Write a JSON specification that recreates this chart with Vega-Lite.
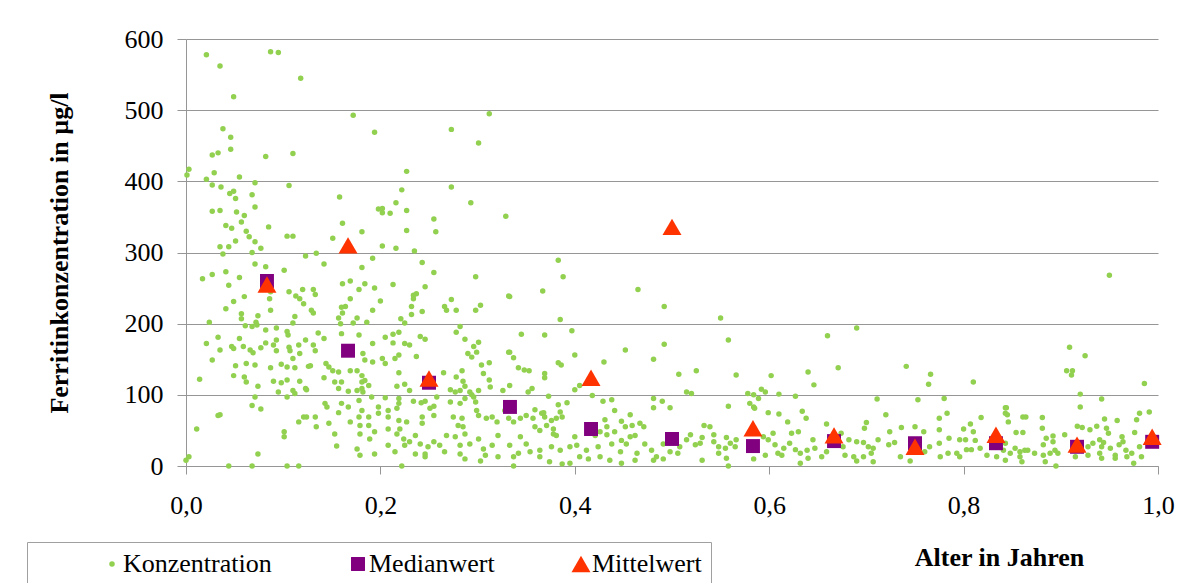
{
"$schema": "https://vega.github.io/schema/vega-lite/v6.json",
"width": 972, "height": 427,
"autosize": {"type": "none"},
"padding": {"left": 186, "top": 39, "right": 46, "bottom": 117},
"background": "white",
"config": {"view": {"stroke": null}, "font": "Liberation Serif"},
"data": {"values": [
{"alter":0.021,"wert":578,"reihe":"Konzentration"},{"alter":0.035,"wert":562,"reihe":"Konzentration"},{"alter":0.087,"wert":582,"reihe":"Konzentration"},{"alter":0.095,"wert":581,"reihe":"Konzentration"},{"alter":0.118,"wert":545,"reihe":"Konzentration"},{"alter":0.049,"wert":519,"reihe":"Konzentration"},{"alter":0.038,"wert":474,"reihe":"Konzentration"},{"alter":0.046,"wert":462,"reihe":"Konzentration"},{"alter":0.046,"wert":445,"reihe":"Konzentration"},{"alter":0.027,"wert":437,"reihe":"Konzentration"},{"alter":0.033,"wert":440,"reihe":"Konzentration"},{"alter":0.082,"wert":435,"reihe":"Konzentration"},{"alter":0.110,"wert":439,"reihe":"Konzentration"},{"alter":0.001,"wert":409,"reihe":"Konzentration"},{"alter":0.003,"wert":417,"reihe":"Konzentration"},{"alter":0.021,"wert":403,"reihe":"Konzentration"},{"alter":0.029,"wert":412,"reihe":"Konzentration"},{"alter":0.027,"wert":395,"reihe":"Konzentration"},{"alter":0.036,"wert":392,"reihe":"Konzentration"},{"alter":0.055,"wert":406,"reihe":"Konzentration"},{"alter":0.071,"wert":398,"reihe":"Konzentration"},{"alter":0.106,"wert":394,"reihe":"Konzentration"},{"alter":0.045,"wert":383,"reihe":"Konzentration"},{"alter":0.049,"wert":386,"reihe":"Konzentration"},{"alter":0.051,"wert":376,"reihe":"Konzentration"},{"alter":0.068,"wert":381,"reihe":"Konzentration"},{"alter":0.071,"wert":364,"reihe":"Konzentration"},{"alter":0.027,"wert":358,"reihe":"Konzentration"},{"alter":0.035,"wert":359,"reihe":"Konzentration"},{"alter":0.052,"wert":357,"reihe":"Konzentration"},{"alter":0.060,"wert":352,"reihe":"Konzentration"},{"alter":0.057,"wert":343,"reihe":"Konzentration"},{"alter":0.041,"wert":338,"reihe":"Konzentration"},{"alter":0.047,"wert":334,"reihe":"Konzentration"},{"alter":0.085,"wert":336,"reihe":"Konzentration"},{"alter":0.062,"wert":330,"reihe":"Konzentration"},{"alter":0.065,"wert":322,"reihe":"Konzentration"},{"alter":0.104,"wert":323,"reihe":"Konzentration"},{"alter":0.110,"wert":323,"reihe":"Konzentration"},{"alter":0.051,"wert":316,"reihe":"Konzentration"},{"alter":0.071,"wert":315,"reihe":"Konzentration"},{"alter":0.077,"wert":306,"reihe":"Konzentration"},{"alter":0.035,"wert":308,"reihe":"Konzentration"},{"alter":0.044,"wert":308,"reihe":"Konzentration"},{"alter":0.038,"wert":298,"reihe":"Konzentration"},{"alter":0.068,"wert":300,"reihe":"Konzentration"},{"alter":0.158,"wert":378,"reihe":"Konzentration"},{"alter":0.161,"wert":341,"reihe":"Konzentration"},{"alter":0.151,"wert":320,"reihe":"Konzentration"},{"alter":0.123,"wert":295,"reihe":"Konzentration"},{"alter":0.134,"wert":299,"reihe":"Konzentration"},{"alter":0.142,"wert":284,"reihe":"Konzentration"},{"alter":0.071,"wert":284,"reihe":"Konzentration"},{"alter":0.082,"wert":280,"reihe":"Konzentration"},{"alter":0.101,"wert":275,"reihe":"Konzentration"},{"alter":0.017,"wert":263,"reihe":"Konzentration"},{"alter":0.027,"wert":269,"reihe":"Konzentration"},{"alter":0.041,"wert":273,"reihe":"Konzentration"},{"alter":0.055,"wert":265,"reihe":"Konzentration"},{"alter":0.044,"wert":254,"reihe":"Konzentration"},{"alter":0.086,"wert":235,"reihe":"Konzentration"},{"alter":0.087,"wert":245,"reihe":"Konzentration"},{"alter":0.106,"wert":245,"reihe":"Konzentration"},{"alter":0.113,"wert":239,"reihe":"Konzentration"},{"alter":0.117,"wert":235,"reihe":"Konzentration"},{"alter":0.121,"wert":228,"reihe":"Konzentration"},{"alter":0.120,"wert":248,"reihe":"Konzentration"},{"alter":0.131,"wert":248,"reihe":"Konzentration"},{"alter":0.133,"wert":241,"reihe":"Konzentration"},{"alter":0.161,"wert":256,"reihe":"Konzentration"},{"alter":0.060,"wert":238,"reihe":"Konzentration"},{"alter":0.049,"wert":231,"reihe":"Konzentration"},{"alter":0.041,"wert":221,"reihe":"Konzentration"},{"alter":0.057,"wert":214,"reihe":"Konzentration"},{"alter":0.057,"wert":207,"reihe":"Konzentration"},{"alter":0.074,"wert":211,"reihe":"Konzentration"},{"alter":0.072,"wert":202,"reihe":"Konzentration"},{"alter":0.087,"wert":219,"reihe":"Konzentration"},{"alter":0.129,"wert":219,"reihe":"Konzentration"},{"alter":0.131,"wert":215,"reihe":"Konzentration"},{"alter":0.112,"wert":210,"reihe":"Konzentration"},{"alter":0.110,"wert":201,"reihe":"Konzentration"},{"alter":0.024,"wert":202,"reihe":"Konzentration"},{"alter":0.061,"wert":197,"reihe":"Konzentration"},{"alter":0.068,"wert":196,"reihe":"Konzentration"},{"alter":0.073,"wert":198,"reihe":"Konzentration"},{"alter":0.082,"wert":191,"reihe":"Konzentration"},{"alter":0.093,"wert":194,"reihe":"Konzentration"},{"alter":0.104,"wert":189,"reihe":"Konzentration"},{"alter":0.105,"wert":184,"reihe":"Konzentration"},{"alter":0.136,"wert":187,"reihe":"Konzentration"},{"alter":0.142,"wert":179,"reihe":"Konzentration"},{"alter":0.160,"wert":223,"reihe":"Konzentration"},{"alter":0.161,"wert":215,"reihe":"Konzentration"},{"alter":0.157,"wert":208,"reihe":"Konzentration"},{"alter":0.159,"wert":200,"reihe":"Konzentration"},{"alter":0.160,"wert":186,"reihe":"Konzentration"},{"alter":0.021,"wert":172,"reihe":"Konzentration"},{"alter":0.033,"wert":181,"reihe":"Konzentration"},{"alter":0.035,"wert":163,"reihe":"Konzentration"},{"alter":0.027,"wert":149,"reihe":"Konzentration"},{"alter":0.047,"wert":168,"reihe":"Konzentration"},{"alter":0.049,"wert":165,"reihe":"Konzentration"},{"alter":0.055,"wert":179,"reihe":"Konzentration"},{"alter":0.059,"wert":168,"reihe":"Konzentration"},{"alter":0.066,"wert":163,"reihe":"Konzentration"},{"alter":0.069,"wert":159,"reihe":"Konzentration"},{"alter":0.077,"wert":166,"reihe":"Konzentration"},{"alter":0.082,"wert":173,"reihe":"Konzentration"},{"alter":0.090,"wert":170,"reihe":"Konzentration"},{"alter":0.093,"wert":177,"reihe":"Konzentration"},{"alter":0.093,"wert":162,"reihe":"Konzentration"},{"alter":0.106,"wert":167,"reihe":"Konzentration"},{"alter":0.107,"wert":162,"reihe":"Konzentration"},{"alter":0.116,"wert":170,"reihe":"Konzentration"},{"alter":0.123,"wert":177,"reihe":"Konzentration"},{"alter":0.110,"wert":151,"reihe":"Konzentration"},{"alter":0.117,"wert":158,"reihe":"Konzentration"},{"alter":0.131,"wert":170,"reihe":"Konzentration"},{"alter":0.133,"wert":162,"reihe":"Konzentration"},{"alter":0.126,"wert":140,"reihe":"Konzentration"},{"alter":0.128,"wert":141,"reihe":"Konzentration"},{"alter":0.051,"wert":141,"reihe":"Konzentration"},{"alter":0.049,"wert":127,"reihe":"Konzentration"},{"alter":0.062,"wert":144,"reihe":"Konzentration"},{"alter":0.071,"wert":142,"reihe":"Konzentration"},{"alter":0.060,"wert":125,"reihe":"Konzentration"},{"alter":0.062,"wert":118,"reihe":"Konzentration"},{"alter":0.074,"wert":112,"reihe":"Konzentration"},{"alter":0.087,"wert":138,"reihe":"Konzentration"},{"alter":0.098,"wert":143,"reihe":"Konzentration"},{"alter":0.104,"wert":139,"reihe":"Konzentration"},{"alter":0.112,"wert":138,"reihe":"Konzentration"},{"alter":0.090,"wert":119,"reihe":"Konzentration"},{"alter":0.098,"wert":117,"reihe":"Konzentration"},{"alter":0.104,"wert":121,"reihe":"Konzentration"},{"alter":0.117,"wert":119,"reihe":"Konzentration"},{"alter":0.123,"wert":109,"reihe":"Konzentration"},{"alter":0.124,"wert":107,"reihe":"Konzentration"},{"alter":0.112,"wert":102,"reihe":"Konzentration"},{"alter":0.110,"wert":106,"reihe":"Konzentration"},{"alter":0.095,"wert":104,"reihe":"Konzentration"},{"alter":0.104,"wert":97,"reihe":"Konzentration"},{"alter":0.142,"wert":124,"reihe":"Konzentration"},{"alter":0.144,"wert":144,"reihe":"Konzentration"},{"alter":0.147,"wert":139,"reihe":"Konzentration"},{"alter":0.151,"wert":134,"reihe":"Konzentration"},{"alter":0.153,"wert":118,"reihe":"Konzentration"},{"alter":0.157,"wert":109,"reihe":"Konzentration"},{"alter":0.160,"wert":118,"reihe":"Konzentration"},{"alter":0.157,"wert":132,"reihe":"Konzentration"},{"alter":0.014,"wert":122,"reihe":"Konzentration"},{"alter":0.071,"wert":97,"reihe":"Konzentration"},{"alter":0.068,"wert":85,"reihe":"Konzentration"},{"alter":0.077,"wert":80,"reihe":"Konzentration"},{"alter":0.033,"wert":71,"reihe":"Konzentration"},{"alter":0.035,"wert":72,"reihe":"Konzentration"},{"alter":0.011,"wert":52,"reihe":"Konzentration"},{"alter":0.101,"wert":48,"reihe":"Konzentration"},{"alter":0.101,"wert":41,"reihe":"Konzentration"},{"alter":0.074,"wert":17,"reihe":"Konzentration"},{"alter":0.116,"wert":62,"reihe":"Konzentration"},{"alter":0.121,"wert":69,"reihe":"Konzentration"},{"alter":0.124,"wert":69,"reihe":"Konzentration"},{"alter":0.133,"wert":69,"reihe":"Konzentration"},{"alter":0.134,"wert":55,"reihe":"Konzentration"},{"alter":0.143,"wert":88,"reihe":"Konzentration"},{"alter":0.145,"wert":83,"reihe":"Konzentration"},{"alter":0.147,"wert":60,"reihe":"Konzentration"},{"alter":0.157,"wert":75,"reihe":"Konzentration"},{"alter":0.153,"wert":45,"reihe":"Konzentration"},{"alter":0.155,"wert":28,"reihe":"Konzentration"},{"alter":0.000,"wert":8,"reihe":"Konzentration"},{"alter":0.003,"wert":13,"reihe":"Konzentration"},{"alter":0.044,"wert":0,"reihe":"Konzentration"},{"alter":0.068,"wert":0,"reihe":"Konzentration"},{"alter":0.104,"wert":0,"reihe":"Konzentration"},{"alter":0.116,"wert":0,"reihe":"Konzentration"},{"alter":0.160,"wert":88,"reihe":"Konzentration"},
{"alter":0.172,"wert":493,"reihe":"Konzentration"},{"alter":0.194,"wert":469,"reihe":"Konzentration"},{"alter":0.273,"wert":473,"reihe":"Konzentration"},{"alter":0.301,"wert":454,"reihe":"Konzentration"},{"alter":0.312,"wert":495,"reihe":"Konzentration"},{"alter":0.227,"wert":414,"reihe":"Konzentration"},{"alter":0.222,"wert":388,"reihe":"Konzentration"},{"alter":0.273,"wert":392,"reihe":"Konzentration"},{"alter":0.293,"wert":370,"reihe":"Konzentration"},{"alter":0.198,"wert":361,"reihe":"Konzentration"},{"alter":0.202,"wert":362,"reihe":"Konzentration"},{"alter":0.202,"wert":356,"reihe":"Konzentration"},{"alter":0.210,"wert":355,"reihe":"Konzentration"},{"alter":0.216,"wert":370,"reihe":"Konzentration"},{"alter":0.227,"wert":359,"reihe":"Konzentration"},{"alter":0.255,"wert":347,"reihe":"Konzentration"},{"alter":0.227,"wert":331,"reihe":"Konzentration"},{"alter":0.257,"wert":329,"reihe":"Konzentration"},{"alter":0.329,"wert":351,"reihe":"Konzentration"},{"alter":0.181,"wert":329,"reihe":"Konzentration"},{"alter":0.202,"wert":309,"reihe":"Konzentration"},{"alter":0.216,"wert":306,"reihe":"Konzentration"},{"alter":0.235,"wert":302,"reihe":"Konzentration"},{"alter":0.192,"wert":292,"reihe":"Konzentration"},{"alter":0.181,"wert":279,"reihe":"Konzentration"},{"alter":0.243,"wert":286,"reihe":"Konzentration"},{"alter":0.255,"wert":272,"reihe":"Konzentration"},{"alter":0.298,"wert":266,"reihe":"Konzentration"},{"alter":0.169,"wert":260,"reihe":"Konzentration"},{"alter":0.178,"wert":248,"reihe":"Konzentration"},{"alter":0.184,"wert":256,"reihe":"Konzentration"},{"alter":0.194,"wert":250,"reihe":"Konzentration"},{"alter":0.213,"wert":255,"reihe":"Konzentration"},{"alter":0.246,"wert":252,"reihe":"Konzentration"},{"alter":0.234,"wert":240,"reihe":"Konzentration"},{"alter":0.237,"wert":242,"reihe":"Konzentration"},{"alter":0.234,"wert":235,"reihe":"Konzentration"},{"alter":0.169,"wert":235,"reihe":"Konzentration"},{"alter":0.164,"wert":224,"reihe":"Konzentration"},{"alter":0.200,"wert":232,"reihe":"Konzentration"},{"alter":0.192,"wert":219,"reihe":"Konzentration"},{"alter":0.232,"wert":224,"reihe":"Konzentration"},{"alter":0.232,"wert":213,"reihe":"Konzentration"},{"alter":0.243,"wert":217,"reihe":"Konzentration"},{"alter":0.266,"wert":224,"reihe":"Konzentration"},{"alter":0.273,"wert":234,"reihe":"Konzentration"},{"alter":0.268,"wert":219,"reihe":"Konzentration"},{"alter":0.278,"wert":219,"reihe":"Konzentration"},{"alter":0.298,"wert":219,"reihe":"Konzentration"},{"alter":0.303,"wert":226,"reihe":"Konzentration"},{"alter":0.332,"wert":239,"reihe":"Konzentration"},{"alter":0.176,"wert":208,"reihe":"Konzentration"},{"alter":0.172,"wert":201,"reihe":"Konzentration"},{"alter":0.186,"wert":202,"reihe":"Konzentration"},{"alter":0.221,"wert":207,"reihe":"Konzentration"},{"alter":0.225,"wert":201,"reihe":"Konzentration"},{"alter":0.282,"wert":196,"reihe":"Konzentration"},{"alter":0.278,"wert":188,"reihe":"Konzentration"},{"alter":0.178,"wert":184,"reihe":"Konzentration"},{"alter":0.205,"wert":181,"reihe":"Konzentration"},{"alter":0.213,"wert":185,"reihe":"Konzentration"},{"alter":0.219,"wert":188,"reihe":"Konzentration"},{"alter":0.241,"wert":182,"reihe":"Konzentration"},{"alter":0.246,"wert":178,"reihe":"Konzentration"},{"alter":0.192,"wert":172,"reihe":"Konzentration"},{"alter":0.213,"wert":173,"reihe":"Konzentration"},{"alter":0.225,"wert":172,"reihe":"Konzentration"},{"alter":0.230,"wert":170,"reihe":"Konzentration"},{"alter":0.287,"wert":178,"reihe":"Konzentration"},{"alter":0.296,"wert":168,"reihe":"Konzentration"},{"alter":0.301,"wert":174,"reihe":"Konzentration"},{"alter":0.164,"wert":163,"reihe":"Konzentration"},{"alter":0.170,"wert":167,"reihe":"Konzentration"},{"alter":0.182,"wert":158,"reihe":"Konzentration"},{"alter":0.184,"wert":149,"reihe":"Konzentration"},{"alter":0.192,"wert":146,"reihe":"Konzentration"},{"alter":0.202,"wert":151,"reihe":"Konzentration"},{"alter":0.205,"wert":144,"reihe":"Konzentration"},{"alter":0.215,"wert":151,"reihe":"Konzentration"},{"alter":0.219,"wert":156,"reihe":"Konzentration"},{"alter":0.237,"wert":154,"reihe":"Konzentration"},{"alter":0.290,"wert":158,"reihe":"Konzentration"},{"alter":0.294,"wert":153,"reihe":"Konzentration"},{"alter":0.299,"wert":160,"reihe":"Konzentration"},{"alter":0.304,"wert":142,"reihe":"Konzentration"},{"alter":0.312,"wert":145,"reihe":"Konzentration"},{"alter":0.332,"wert":160,"reihe":"Konzentration"},{"alter":0.169,"wert":134,"reihe":"Konzentration"},{"alter":0.176,"wert":134,"reihe":"Konzentration"},{"alter":0.181,"wert":127,"reihe":"Konzentration"},{"alter":0.181,"wert":118,"reihe":"Konzentration"},{"alter":0.184,"wert":120,"reihe":"Konzentration"},{"alter":0.188,"wert":113,"reihe":"Konzentration"},{"alter":0.219,"wert":131,"reihe":"Konzentration"},{"alter":0.217,"wert":112,"reihe":"Konzentration"},{"alter":0.225,"wert":115,"reihe":"Konzentration"},{"alter":0.230,"wert":106,"reihe":"Konzentration"},{"alter":0.265,"wert":131,"reihe":"Konzentration"},{"alter":0.278,"wert":125,"reihe":"Konzentration"},{"alter":0.284,"wert":134,"reihe":"Konzentration"},{"alter":0.285,"wert":119,"reihe":"Konzentration"},{"alter":0.282,"wert":106,"reihe":"Konzentration"},{"alter":0.287,"wert":112,"reihe":"Konzentration"},{"alter":0.306,"wert":130,"reihe":"Konzentration"},{"alter":0.312,"wert":121,"reihe":"Konzentration"},{"alter":0.313,"wert":111,"reihe":"Konzentration"},{"alter":0.167,"wert":105,"reihe":"Konzentration"},{"alter":0.176,"wert":106,"reihe":"Konzentration"},{"alter":0.181,"wert":109,"reihe":"Konzentration"},{"alter":0.182,"wert":104,"reihe":"Konzentration"},{"alter":0.272,"wert":107,"reihe":"Konzentration"},{"alter":0.277,"wert":104,"reihe":"Konzentration"},{"alter":0.292,"wert":104,"reihe":"Konzentration"},{"alter":0.294,"wert":100,"reihe":"Konzentration"},{"alter":0.301,"wert":106,"reihe":"Konzentration"},{"alter":0.326,"wert":106,"reihe":"Konzentration"},{"alter":0.178,"wert":92,"reihe":"Konzentration"},{"alter":0.191,"wert":97,"reihe":"Konzentration"},{"alter":0.205,"wert":96,"reihe":"Konzentration"},{"alter":0.219,"wert":95,"reihe":"Konzentration"},{"alter":0.219,"wert":88,"reihe":"Konzentration"},{"alter":0.234,"wert":91,"reihe":"Konzentration"},{"alter":0.242,"wert":89,"reihe":"Konzentration"},{"alter":0.246,"wert":91,"reihe":"Konzentration"},{"alter":0.255,"wert":84,"reihe":"Konzentration"},{"alter":0.258,"wert":97,"reihe":"Konzentration"},{"alter":0.272,"wert":90,"reihe":"Konzentration"},{"alter":0.282,"wert":88,"reihe":"Konzentration"},{"alter":0.287,"wert":95,"reihe":"Konzentration"},{"alter":0.296,"wert":97,"reihe":"Konzentration"},{"alter":0.298,"wert":90,"reihe":"Konzentration"},{"alter":0.167,"wert":83,"reihe":"Konzentration"},{"alter":0.181,"wert":78,"reihe":"Konzentration"},{"alter":0.198,"wert":83,"reihe":"Konzentration"},{"alter":0.208,"wert":78,"reihe":"Konzentration"},{"alter":0.217,"wert":81,"reihe":"Konzentration"},{"alter":0.198,"wert":74,"reihe":"Konzentration"},{"alter":0.208,"wert":69,"reihe":"Konzentration"},{"alter":0.169,"wert":62,"reihe":"Konzentration"},{"alter":0.178,"wert":69,"reihe":"Konzentration"},{"alter":0.188,"wert":69,"reihe":"Konzentration"},{"alter":0.179,"wert":57,"reihe":"Konzentration"},{"alter":0.188,"wert":57,"reihe":"Konzentration"},{"alter":0.179,"wert":45,"reihe":"Konzentration"},{"alter":0.219,"wert":64,"reihe":"Konzentration"},{"alter":0.227,"wert":62,"reihe":"Konzentration"},{"alter":0.220,"wert":52,"reihe":"Konzentration"},{"alter":0.243,"wert":69,"reihe":"Konzentration"},{"alter":0.243,"wert":60,"reihe":"Konzentration"},{"alter":0.251,"wert":81,"reihe":"Konzentration"},{"alter":0.255,"wert":71,"reihe":"Konzentration"},{"alter":0.275,"wert":69,"reihe":"Konzentration"},{"alter":0.284,"wert":67,"reihe":"Konzentration"},{"alter":0.280,"wert":57,"reihe":"Konzentration"},{"alter":0.285,"wert":55,"reihe":"Konzentration"},{"alter":0.299,"wert":78,"reihe":"Konzentration"},{"alter":0.301,"wert":71,"reihe":"Konzentration"},{"alter":0.309,"wert":67,"reihe":"Konzentration"},{"alter":0.315,"wert":69,"reihe":"Konzentration"},{"alter":0.320,"wert":62,"reihe":"Konzentration"},{"alter":0.189,"wert":38,"reihe":"Konzentration"},{"alter":0.194,"wert":48,"reihe":"Konzentration"},{"alter":0.208,"wert":52,"reihe":"Konzentration"},{"alter":0.217,"wert":45,"reihe":"Konzentration"},{"alter":0.224,"wert":38,"reihe":"Konzentration"},{"alter":0.236,"wert":43,"reihe":"Konzentration"},{"alter":0.230,"wert":34,"reihe":"Konzentration"},{"alter":0.241,"wert":31,"reihe":"Konzentration"},{"alter":0.246,"wert":17,"reihe":"Konzentration"},{"alter":0.255,"wert":34,"reihe":"Konzentration"},{"alter":0.261,"wert":29,"reihe":"Konzentration"},{"alter":0.268,"wert":43,"reihe":"Konzentration"},{"alter":0.277,"wert":41,"reihe":"Konzentration"},{"alter":0.282,"wert":29,"reihe":"Konzentration"},{"alter":0.287,"wert":45,"reihe":"Konzentration"},{"alter":0.292,"wert":31,"reihe":"Konzentration"},{"alter":0.301,"wert":38,"reihe":"Konzentration"},{"alter":0.306,"wert":24,"reihe":"Konzentration"},{"alter":0.315,"wert":29,"reihe":"Konzentration"},{"alter":0.321,"wert":43,"reihe":"Konzentration"},{"alter":0.176,"wert":24,"reihe":"Konzentration"},{"alter":0.179,"wert":15,"reihe":"Konzentration"},{"alter":0.194,"wert":17,"reihe":"Konzentration"},{"alter":0.208,"wert":29,"reihe":"Konzentration"},{"alter":0.215,"wert":20,"reihe":"Konzentration"},{"alter":0.225,"wert":29,"reihe":"Konzentration"},{"alter":0.236,"wert":17,"reihe":"Konzentration"},{"alter":0.246,"wert":13,"reihe":"Konzentration"},{"alter":0.282,"wert":17,"reihe":"Konzentration"},{"alter":0.287,"wert":10,"reihe":"Konzentration"},{"alter":0.303,"wert":7,"reihe":"Konzentration"},{"alter":0.308,"wert":15,"reihe":"Konzentration"},{"alter":0.321,"wert":13,"reihe":"Konzentration"},{"alter":0.222,"wert":0,"reihe":"Konzentration"},{"alter":0.249,"wert":27,"reihe":"Konzentration"},{"alter":0.266,"wert":20,"reihe":"Konzentration"},{"alter":0.328,"wert":78,"reihe":"Konzentration"},{"alter":0.332,"wert":67,"reihe":"Konzentration"},
{"alter":0.383,"wert":289,"reihe":"Konzentration"},{"alter":0.388,"wert":266,"reihe":"Konzentration"},{"alter":0.367,"wert":246,"reihe":"Konzentration"},{"alter":0.465,"wert":248,"reihe":"Konzentration"},{"alter":0.492,"wert":224,"reihe":"Konzentration"},{"alter":0.385,"wert":206,"reihe":"Konzentration"},{"alter":0.397,"wert":190,"reihe":"Konzentration"},{"alter":0.345,"wert":185,"reihe":"Konzentration"},{"alter":0.369,"wert":184,"reihe":"Konzentration"},{"alter":0.333,"wert":238,"reihe":"Konzentration"},{"alter":0.333,"wert":160,"reihe":"Konzentration"},{"alter":0.337,"wert":152,"reihe":"Konzentration"},{"alter":0.400,"wert":156,"reihe":"Konzentration"},{"alter":0.383,"wert":145,"reihe":"Konzentration"},{"alter":0.386,"wert":142,"reihe":"Konzentration"},{"alter":0.430,"wert":146,"reihe":"Konzentration"},{"alter":0.452,"wert":163,"reihe":"Konzentration"},{"alter":0.481,"wert":150,"reihe":"Konzentration"},{"alter":0.492,"wert":171,"reihe":"Konzentration"},{"alter":0.342,"wert":138,"reihe":"Konzentration"},{"alter":0.348,"wert":135,"reihe":"Konzentration"},{"alter":0.353,"wert":134,"reihe":"Konzentration"},{"alter":0.369,"wert":130,"reihe":"Konzentration"},{"alter":0.369,"wert":124,"reihe":"Konzentration"},{"alter":0.352,"wert":104,"reihe":"Konzentration"},{"alter":0.356,"wert":109,"reihe":"Konzentration"},{"alter":0.333,"wert":113,"reihe":"Konzentration"},{"alter":0.400,"wert":107,"reihe":"Konzentration"},{"alter":0.405,"wert":113,"reihe":"Konzentration"},{"alter":0.418,"wert":99,"reihe":"Konzentration"},{"alter":0.373,"wert":98,"reihe":"Konzentration"},{"alter":0.429,"wert":91,"reihe":"Konzentration"},{"alter":0.438,"wert":93,"reihe":"Konzentration"},{"alter":0.481,"wert":95,"reihe":"Konzentration"},{"alter":0.481,"wert":82,"reihe":"Konzentration"},{"alter":0.490,"wert":91,"reihe":"Konzentration"},{"alter":0.498,"wert":82,"reihe":"Konzentration"},{"alter":0.383,"wert":86,"reihe":"Konzentration"},{"alter":0.392,"wert":89,"reihe":"Konzentration"},{"alter":0.359,"wert":79,"reihe":"Konzentration"},{"alter":0.368,"wert":75,"reihe":"Konzentration"},{"alter":0.385,"wert":76,"reihe":"Konzentration"},{"alter":0.387,"wert":69,"reihe":"Konzentration"},{"alter":0.441,"wert":78,"reihe":"Konzentration"},{"alter":0.457,"wert":72,"reihe":"Konzentration"},{"alter":0.337,"wert":62,"reihe":"Konzentration"},{"alter":0.344,"wert":67,"reihe":"Konzentration"},{"alter":0.350,"wert":71,"reihe":"Konzentration"},{"alter":0.357,"wert":67,"reihe":"Konzentration"},{"alter":0.366,"wert":74,"reihe":"Konzentration"},{"alter":0.369,"wert":69,"reihe":"Konzentration"},{"alter":0.376,"wert":64,"reihe":"Konzentration"},{"alter":0.381,"wert":67,"reihe":"Konzentration"},{"alter":0.431,"wert":65,"reihe":"Konzentration"},{"alter":0.433,"wert":55,"reihe":"Konzentration"},{"alter":0.448,"wert":63,"reihe":"Konzentration"},{"alter":0.452,"wert":55,"reihe":"Konzentration"},{"alter":0.459,"wert":57,"reihe":"Konzentration"},{"alter":0.467,"wert":60,"reihe":"Konzentration"},{"alter":0.471,"wert":55,"reihe":"Konzentration"},{"alter":0.344,"wert":41,"reihe":"Konzentration"},{"alter":0.359,"wert":55,"reihe":"Konzentration"},{"alter":0.364,"wert":50,"reihe":"Konzentration"},{"alter":0.371,"wert":57,"reihe":"Konzentration"},{"alter":0.378,"wert":52,"reihe":"Konzentration"},{"alter":0.381,"wert":43,"reihe":"Konzentration"},{"alter":0.378,"wert":45,"reihe":"Konzentration"},{"alter":0.400,"wert":41,"reihe":"Konzentration"},{"alter":0.421,"wert":43,"reihe":"Konzentration"},{"alter":0.426,"wert":48,"reihe":"Konzentration"},{"alter":0.433,"wert":44,"reihe":"Konzentration"},{"alter":0.441,"wert":48,"reihe":"Konzentration"},{"alter":0.448,"wert":36,"reihe":"Konzentration"},{"alter":0.457,"wert":41,"reihe":"Konzentration"},{"alter":0.462,"wert":43,"reihe":"Konzentration"},{"alter":0.333,"wert":29,"reihe":"Konzentration"},{"alter":0.350,"wert":31,"reihe":"Konzentration"},{"alter":0.354,"wert":20,"reihe":"Konzentration"},{"alter":0.364,"wert":22,"reihe":"Konzentration"},{"alter":0.376,"wert":27,"reihe":"Konzentration"},{"alter":0.385,"wert":22,"reihe":"Konzentration"},{"alter":0.395,"wert":27,"reihe":"Konzentration"},{"alter":0.402,"wert":29,"reihe":"Konzentration"},{"alter":0.412,"wert":22,"reihe":"Konzentration"},{"alter":0.424,"wert":27,"reihe":"Konzentration"},{"alter":0.438,"wert":31,"reihe":"Konzentration"},{"alter":0.447,"wert":20,"reihe":"Konzentration"},{"alter":0.453,"wert":31,"reihe":"Konzentration"},{"alter":0.464,"wert":18,"reihe":"Konzentration"},{"alter":0.472,"wert":31,"reihe":"Konzentration"},{"alter":0.479,"wert":22,"reihe":"Konzentration"},{"alter":0.484,"wert":13,"reihe":"Konzentration"},{"alter":0.491,"wert":31,"reihe":"Konzentration"},{"alter":0.498,"wert":20,"reihe":"Konzentration"},{"alter":0.337,"wert":13,"reihe":"Konzentration"},{"alter":0.342,"wert":18,"reihe":"Konzentration"},{"alter":0.364,"wert":13,"reihe":"Konzentration"},{"alter":0.374,"wert":6,"reihe":"Konzentration"},{"alter":0.395,"wert":4,"reihe":"Konzentration"},{"alter":0.405,"wert":13,"reihe":"Konzentration"},{"alter":0.414,"wert":10,"reihe":"Konzentration"},{"alter":0.426,"wert":13,"reihe":"Konzentration"},{"alter":0.436,"wert":8,"reihe":"Konzentration"},{"alter":0.448,"wert":4,"reihe":"Konzentration"},{"alter":0.462,"wert":8,"reihe":"Konzentration"},{"alter":0.481,"wert":8,"reihe":"Konzentration"},{"alter":0.491,"wert":10,"reihe":"Konzentration"},{"alter":0.337,"wert":0,"reihe":"Konzentration"},{"alter":0.387,"wert":3,"reihe":"Konzentration"},
{"alter":0.550,"wert":208,"reihe":"Konzentration"},{"alter":0.558,"wert":177,"reihe":"Konzentration"},{"alter":0.660,"wert":183,"reihe":"Konzentration"},{"alter":0.671,"wert":138,"reihe":"Konzentration"},{"alter":0.507,"wert":129,"reihe":"Konzentration"},{"alter":0.525,"wert":134,"reihe":"Konzentration"},{"alter":0.566,"wert":128,"reihe":"Konzentration"},{"alter":0.602,"wert":127,"reihe":"Konzentration"},{"alter":0.640,"wert":132,"reihe":"Konzentration"},{"alter":0.646,"wert":114,"reihe":"Konzentration"},{"alter":0.515,"wert":104,"reihe":"Konzentration"},{"alter":0.520,"wert":102,"reihe":"Konzentration"},{"alter":0.578,"wert":102,"reihe":"Konzentration"},{"alter":0.584,"wert":100,"reihe":"Konzentration"},{"alter":0.589,"wert":95,"reihe":"Konzentration"},{"alter":0.592,"wert":108,"reihe":"Konzentration"},{"alter":0.596,"wert":104,"reihe":"Konzentration"},{"alter":0.610,"wert":101,"reihe":"Konzentration"},{"alter":0.627,"wert":98,"reihe":"Konzentration"},{"alter":0.558,"wert":84,"reihe":"Konzentration"},{"alter":0.580,"wert":88,"reihe":"Konzentration"},{"alter":0.584,"wert":83,"reihe":"Konzentration"},{"alter":0.585,"wert":81,"reihe":"Konzentration"},{"alter":0.599,"wert":75,"reihe":"Konzentration"},{"alter":0.610,"wert":73,"reihe":"Konzentration"},{"alter":0.634,"wert":77,"reihe":"Konzentration"},{"alter":0.638,"wert":67,"reihe":"Konzentration"},{"alter":0.619,"wert":62,"reihe":"Konzentration"},{"alter":0.533,"wert":57,"reihe":"Konzentration"},{"alter":0.539,"wert":55,"reihe":"Konzentration"},{"alter":0.519,"wert":44,"reihe":"Konzentration"},{"alter":0.515,"wert":37,"reihe":"Konzentration"},{"alter":0.508,"wert":27,"reihe":"Konzentration"},{"alter":0.524,"wert":30,"reihe":"Konzentration"},{"alter":0.529,"wert":32,"reihe":"Konzentration"},{"alter":0.531,"wert":40,"reihe":"Konzentration"},{"alter":0.543,"wert":44,"reihe":"Konzentration"},{"alter":0.543,"wert":34,"reihe":"Konzentration"},{"alter":0.548,"wert":27,"reihe":"Konzentration"},{"alter":0.555,"wert":25,"reihe":"Konzentration"},{"alter":0.556,"wert":40,"reihe":"Konzentration"},{"alter":0.560,"wert":32,"reihe":"Konzentration"},{"alter":0.566,"wert":37,"reihe":"Konzentration"},{"alter":0.565,"wert":27,"reihe":"Konzentration"},{"alter":0.548,"wert":18,"reihe":"Konzentration"},{"alter":0.556,"wert":11,"reihe":"Konzentration"},{"alter":0.558,"wert":0,"reihe":"Konzentration"},{"alter":0.531,"wert":8,"reihe":"Konzentration"},{"alter":0.584,"wert":10,"reihe":"Konzentration"},{"alter":0.594,"wert":41,"reihe":"Konzentration"},{"alter":0.599,"wert":37,"reihe":"Konzentration"},{"alter":0.604,"wert":46,"reihe":"Konzentration"},{"alter":0.606,"wert":30,"reihe":"Konzentration"},{"alter":0.609,"wert":18,"reihe":"Konzentration"},{"alter":0.596,"wert":15,"reihe":"Konzentration"},{"alter":0.615,"wert":25,"reihe":"Konzentration"},{"alter":0.613,"wert":15,"reihe":"Konzentration"},{"alter":0.623,"wert":46,"reihe":"Konzentration"},{"alter":0.621,"wert":32,"reihe":"Konzentration"},{"alter":0.627,"wert":23,"reihe":"Konzentration"},{"alter":0.630,"wert":48,"reihe":"Konzentration"},{"alter":0.632,"wert":18,"reihe":"Konzentration"},{"alter":0.639,"wert":22,"reihe":"Konzentration"},{"alter":0.640,"wert":11,"reihe":"Konzentration"},{"alter":0.632,"wert":4,"reihe":"Konzentration"},{"alter":0.647,"wert":25,"reihe":"Konzentration"},{"alter":0.654,"wert":13,"reihe":"Konzentration"},{"alter":0.659,"wert":20,"reihe":"Konzentration"},{"alter":0.659,"wert":59,"reihe":"Konzentration"},{"alter":0.645,"wert":37,"reihe":"Konzentration"},{"alter":0.506,"wert":18,"reihe":"Konzentration"},
{"alter":0.690,"wert":194,"reihe":"Konzentration"},{"alter":0.741,"wert":140,"reihe":"Konzentration"},{"alter":0.766,"wert":129,"reihe":"Konzentration"},{"alter":0.764,"wert":115,"reihe":"Konzentration"},{"alter":0.810,"wert":118,"reihe":"Konzentration"},{"alter":0.711,"wert":94,"reihe":"Konzentration"},{"alter":0.753,"wert":93,"reihe":"Konzentration"},{"alter":0.780,"wert":95,"reihe":"Konzentration"},{"alter":0.720,"wert":72,"reihe":"Konzentration"},{"alter":0.783,"wert":74,"reihe":"Konzentration"},{"alter":0.775,"wert":67,"reihe":"Konzentration"},{"alter":0.818,"wert":68,"reihe":"Konzentration"},{"alter":0.843,"wert":82,"reihe":"Konzentration"},{"alter":0.843,"wert":74,"reihe":"Konzentration"},{"alter":0.700,"wert":61,"reihe":"Konzentration"},{"alter":0.698,"wert":53,"reihe":"Konzentration"},{"alter":0.724,"wert":48,"reihe":"Konzentration"},{"alter":0.736,"wert":54,"reihe":"Konzentration"},{"alter":0.750,"wert":55,"reihe":"Konzentration"},{"alter":0.759,"wert":48,"reihe":"Konzentration"},{"alter":0.775,"wert":51,"reihe":"Konzentration"},{"alter":0.785,"wert":39,"reihe":"Konzentration"},{"alter":0.775,"wert":32,"reihe":"Konzentration"},{"alter":0.800,"wert":52,"reihe":"Konzentration"},{"alter":0.807,"wert":59,"reihe":"Konzentration"},{"alter":0.810,"wert":48,"reihe":"Konzentration"},{"alter":0.674,"wert":46,"reihe":"Konzentration"},{"alter":0.682,"wert":37,"reihe":"Konzentration"},{"alter":0.676,"wert":27,"reihe":"Konzentration"},{"alter":0.690,"wert":34,"reihe":"Konzentration"},{"alter":0.697,"wert":33,"reihe":"Konzentration"},{"alter":0.702,"wert":27,"reihe":"Konzentration"},{"alter":0.707,"wert":25,"reihe":"Konzentration"},{"alter":0.712,"wert":37,"reihe":"Konzentration"},{"alter":0.723,"wert":30,"reihe":"Konzentration"},{"alter":0.729,"wert":33,"reihe":"Konzentration"},{"alter":0.765,"wert":27,"reihe":"Konzentration"},{"alter":0.760,"wert":20,"reihe":"Konzentration"},{"alter":0.796,"wert":37,"reihe":"Konzentration"},{"alter":0.802,"wert":37,"reihe":"Konzentration"},{"alter":0.793,"wert":18,"reihe":"Konzentration"},{"alter":0.796,"wert":13,"reihe":"Konzentration"},{"alter":0.803,"wert":23,"reihe":"Konzentration"},{"alter":0.808,"wert":23,"reihe":"Konzentration"},{"alter":0.812,"wert":36,"reihe":"Konzentration"},{"alter":0.817,"wert":25,"reihe":"Konzentration"},{"alter":0.824,"wert":15,"reihe":"Konzentration"},{"alter":0.834,"wert":13,"reihe":"Konzentration"},{"alter":0.841,"wert":22,"reihe":"Konzentration"},{"alter":0.678,"wert":15,"reihe":"Konzentration"},{"alter":0.687,"wert":13,"reihe":"Konzentration"},{"alter":0.697,"wert":13,"reihe":"Konzentration"},{"alter":0.705,"wert":18,"reihe":"Konzentration"},{"alter":0.707,"wert":6,"reihe":"Konzentration"},{"alter":0.690,"wert":7,"reihe":"Konzentration"},{"alter":0.735,"wert":13,"reihe":"Konzentration"},{"alter":0.745,"wert":7,"reihe":"Konzentration"},{"alter":0.776,"wert":13,"reihe":"Konzentration"},{"alter":0.784,"wert":18,"reihe":"Konzentration"},
{"alter":0.950,"wert":268,"reihe":"Konzentration"},{"alter":0.909,"wert":167,"reihe":"Konzentration"},{"alter":0.925,"wert":155,"reihe":"Konzentration"},{"alter":0.906,"wert":134,"reihe":"Konzentration"},{"alter":0.912,"wert":134,"reihe":"Konzentration"},{"alter":0.911,"wert":128,"reihe":"Konzentration"},{"alter":0.986,"wert":116,"reihe":"Konzentration"},{"alter":0.920,"wert":101,"reihe":"Konzentration"},{"alter":0.942,"wert":94,"reihe":"Konzentration"},{"alter":0.920,"wert":83,"reihe":"Konzentration"},{"alter":0.844,"wert":82,"reihe":"Konzentration"},{"alter":0.845,"wert":72,"reihe":"Konzentration"},{"alter":0.846,"wert":62,"reihe":"Konzentration"},{"alter":0.861,"wert":69,"reihe":"Konzentration"},{"alter":0.864,"wert":69,"reihe":"Konzentration"},{"alter":0.881,"wert":68,"reihe":"Konzentration"},{"alter":0.881,"wert":53,"reihe":"Konzentration"},{"alter":0.854,"wert":47,"reihe":"Konzentration"},{"alter":0.861,"wert":47,"reihe":"Konzentration"},{"alter":0.885,"wert":39,"reihe":"Konzentration"},{"alter":0.892,"wert":42,"reihe":"Konzentration"},{"alter":0.892,"wert":34,"reihe":"Konzentration"},{"alter":0.904,"wert":44,"reihe":"Konzentration"},{"alter":0.917,"wert":56,"reihe":"Konzentration"},{"alter":0.922,"wert":54,"reihe":"Konzentration"},{"alter":0.930,"wert":51,"reihe":"Konzentration"},{"alter":0.937,"wert":56,"reihe":"Konzentration"},{"alter":0.945,"wert":66,"reihe":"Konzentration"},{"alter":0.958,"wert":64,"reihe":"Konzentration"},{"alter":0.947,"wert":53,"reihe":"Konzentration"},{"alter":0.949,"wert":46,"reihe":"Konzentration"},{"alter":0.940,"wert":37,"reihe":"Konzentration"},{"alter":0.944,"wert":33,"reihe":"Konzentration"},{"alter":0.963,"wert":41,"reihe":"Konzentration"},{"alter":0.964,"wert":34,"reihe":"Konzentration"},{"alter":0.960,"wert":30,"reihe":"Konzentration"},{"alter":0.976,"wert":47,"reihe":"Konzentration"},{"alter":0.978,"wert":65,"reihe":"Konzentration"},{"alter":0.981,"wert":74,"reihe":"Konzentration"},{"alter":0.991,"wert":76,"reihe":"Konzentration"},{"alter":0.843,"wert":32,"reihe":"Konzentration"},{"alter":0.853,"wert":25,"reihe":"Konzentration"},{"alter":0.848,"wert":18,"reihe":"Konzentration"},{"alter":0.858,"wert":20,"reihe":"Konzentration"},{"alter":0.863,"wert":22,"reihe":"Konzentration"},{"alter":0.866,"wert":22,"reihe":"Konzentration"},{"alter":0.858,"wert":13,"reihe":"Konzentration"},{"alter":0.860,"wert":6,"reihe":"Konzentration"},{"alter":0.873,"wert":18,"reihe":"Konzentration"},{"alter":0.882,"wert":30,"reihe":"Konzentration"},{"alter":0.882,"wert":15,"reihe":"Konzentration"},{"alter":0.889,"wert":18,"reihe":"Konzentration"},{"alter":0.894,"wert":22,"reihe":"Konzentration"},{"alter":0.897,"wert":18,"reihe":"Konzentration"},{"alter":0.884,"wert":6,"reihe":"Konzentration"},{"alter":0.895,"wert":0,"reihe":"Konzentration"},{"alter":0.928,"wert":27,"reihe":"Konzentration"},{"alter":0.933,"wert":32,"reihe":"Konzentration"},{"alter":0.942,"wert":27,"reihe":"Konzentration"},{"alter":0.951,"wert":25,"reihe":"Konzentration"},{"alter":0.940,"wert":18,"reihe":"Konzentration"},{"alter":0.942,"wert":11,"reihe":"Konzentration"},{"alter":0.956,"wert":15,"reihe":"Konzentration"},{"alter":0.956,"wert":11,"reihe":"Konzentration"},{"alter":0.967,"wert":22,"reihe":"Konzentration"},{"alter":0.968,"wert":13,"reihe":"Konzentration"},{"alter":0.973,"wert":18,"reihe":"Konzentration"},{"alter":0.981,"wert":27,"reihe":"Konzentration"},{"alter":0.983,"wert":13,"reihe":"Konzentration"},{"alter":0.975,"wert":4,"reihe":"Konzentration"},{"alter":0.928,"wert":15,"reihe":"Konzentration"},{"alter":0.915,"wert":13,"reihe":"Konzentration"},{"alter":0.843,"wert":8,"reihe":"Konzentration"},
{"alter":0.0833,"wert":260,"reihe":"Medianwert"},{"alter":0.1667,"wert":162,"reihe":"Medianwert"},{"alter":0.25,"wert":117,"reihe":"Medianwert"},{"alter":0.3333,"wert":83,"reihe":"Medianwert"},{"alter":0.4167,"wert":52,"reihe":"Medianwert"},{"alter":0.5,"wert":38,"reihe":"Medianwert"},{"alter":0.5833,"wert":28,"reihe":"Medianwert"},{"alter":0.6667,"wert":35,"reihe":"Medianwert"},{"alter":0.75,"wert":32,"reihe":"Medianwert"},{"alter":0.8333,"wert":32,"reihe":"Medianwert"},{"alter":0.9167,"wert":27,"reihe":"Medianwert"},{"alter":0.994,"wert":34,"reihe":"Medianwert"},
{"alter":0.0833,"wert":255,"reihe":"Mittelwert"},{"alter":0.1667,"wert":310,"reihe":"Mittelwert"},{"alter":0.25,"wert":123,"reihe":"Mittelwert"},{"alter":0.4167,"wert":124,"reihe":"Mittelwert"},{"alter":0.5,"wert":336,"reihe":"Mittelwert"},{"alter":0.5833,"wert":53,"reihe":"Mittelwert"},{"alter":0.6667,"wert":43,"reihe":"Mittelwert"},{"alter":0.75,"wert":27,"reihe":"Mittelwert"},{"alter":0.8333,"wert":44,"reihe":"Mittelwert"},{"alter":0.9167,"wert":30,"reihe":"Mittelwert"},{"alter":0.994,"wert":41,"reihe":"Mittelwert"}
]},
"mark": {"type": "point", "filled": true, "opacity": 1, "strokeWidth": 0, "clip": false},
"encoding": {
"x": {"field": "alter", "type": "quantitative",
 "scale": {"domain": [0, 1], "nice": false, "zero": false},
 "axis": {"title": "Alter in Jahren", "values": [0, 0.2, 0.4, 0.6, 0.8, 1],
  "labelExpr": "replace(format(datum.value, '.1f'), '.', ',')",
  "grid": false, "domainColor": "#969696", "tickColor": "#969696", "tickSize": 8,
  "labelPadding": 18, "labelFontSize": 26, "labelColor": "#000000", "labelFlush": false, "labelFont": "Liberation Serif",
  "titleFontSize": 26, "titleFontWeight": "bold", "titleColor": "#000000", "titleFont": "Liberation Serif",
  "titleX": 813, "titleY": 99, "titleAlign": "center", "titleBaseline": "alphabetic"}},
"y": {"field": "wert", "type": "quantitative",
 "scale": {"domain": [0, 600], "nice": false},
 "axis": {"title": "Ferritinkonzentration in µg/l", "values": [0, 100, 200, 300, 400, 500, 600],
  "grid": true, "gridColor": "#969696", "domainColor": "#969696", "tickColor": "#969696", "tickSize": 9,
  "labelPadding": 14, "labelFontSize": 26, "labelColor": "#000000", "labelFont": "Liberation Serif",
  "titleFontSize": 26, "titleFontWeight": "bold", "titleColor": "#000000", "titleFont": "Liberation Serif", "titlePadding": 52}},
"color": {"field": "reihe", "type": "nominal",
 "scale": {"domain": ["Konzentration", "Medianwert", "Mittelwert"], "range": ["#92D050", "#800080", "#FF3300"]},
 "legend": {"title": " ", "titleOrient": "left", "titleFontSize": 1, "titlePadding": 63,
  "orient": "none", "legendX": -159, "legendY": 503, "direction": "horizontal", "columns": 3,
  "columnPadding": 73, "labelFontSize": 26, "labelColor": "#000000", "labelFont": "Liberation Serif",
  "labelOffset": -2, "labelLimit": 0, "strokeColor": "#A0A0A0", "fillColor": "white", "padding": 9, "symbolStrokeWidth": 0}},
"shape": {"field": "reihe", "type": "nominal",
 "scale": {"domain": ["Konzentration", "Medianwert", "Mittelwert"], "range": ["circle", "square", "triangle-up"]}},
"size": {"field": "reihe", "type": "nominal",
 "scale": {"domain": ["Konzentration", "Medianwert", "Mittelwert"], "range": [30, 360, 361]}}
}
}
